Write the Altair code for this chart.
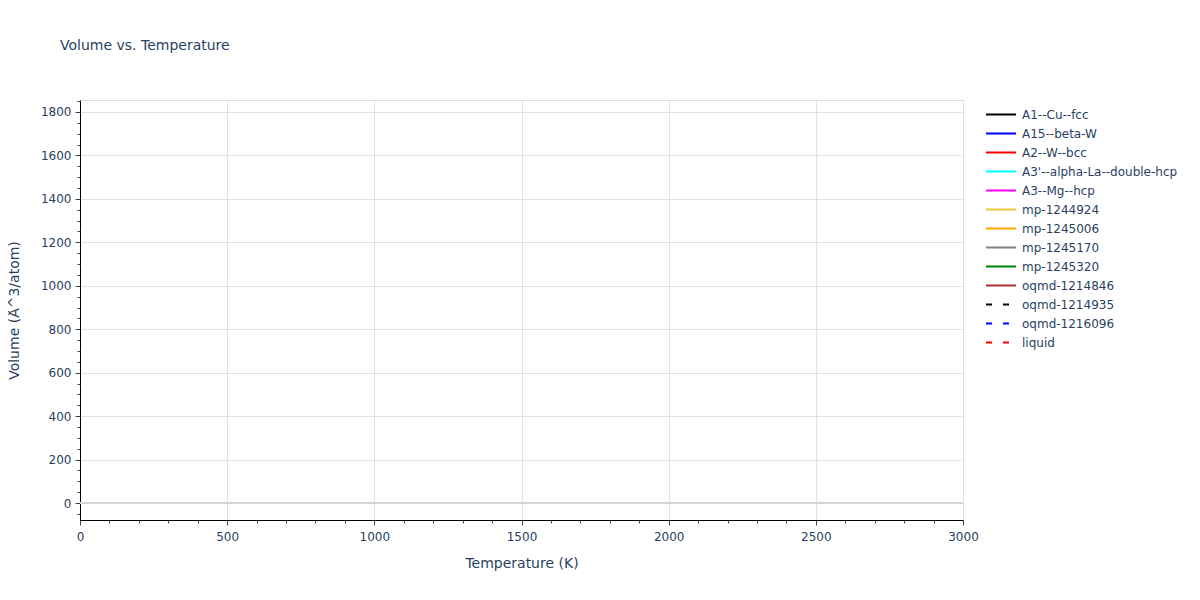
import altair as alt
import pandas as pd

series = ["A1--Cu--fcc", "A15--beta-W", "A2--W--bcc", "A3'--alpha-La--double-hcp",
          "A3--Mg--hcp", "mp-1244924", "mp-1245006", "mp-1245170", "mp-1245320",
          "oqmd-1214846", "oqmd-1214935", "oqmd-1216096", "liquid"]
colors = ["black", "blue", "red", "cyan", "magenta", "#f0c840", "orange", "gray",
          "green", "#a83232", "black", "blue", "red"]
dashes = [[1, 0]] * 10 + [[6, 11]] * 3

# No data points are visible in the reference: every series is empty
temperature = [None] * len(series)
volume = [None] * len(series)

x_ticks = [0, 500, 1000, 1500, 2000, 2500, 3000]
y_ticks = [0, 200, 400, 600, 800, 1000, 1200, 1400, 1600, 1800]
x_minor = list(range(0, 3001, 100))
y_minor = list(range(-50, 1851, 50))

df = pd.DataFrame({"phase": series, "T": temperature, "V": volume})
zero_df = pd.DataFrame({"V": [0]})

FONT = "DejaVu Sans"
TXT = "#2a3f5f"
xdom = [0, 3000]
ydom = [-78, 1855]

xscale = alt.Scale(domain=xdom, nice=False, zero=False)
yscale = alt.Scale(domain=ydom, nice=False, zero=False)

leg = dict(title=None, orient="none", legendX=905, legendY=5,
           symbolType="stroke", symbolSize=900, symbolStrokeWidth=2, rowPadding=0,
           clipHeight=19, labelFontSize=12, labelColor=TXT, labelFont=FONT, labelOffset=5)

lines = alt.Chart(df).mark_line(strokeWidth=2).encode(
    x=alt.X("T:Q", scale=xscale, title="Temperature (K)",
            axis=alt.Axis(orient="bottom", values=x_ticks, grid=True, gridColor="#e2e2e2",
                          domainColor="black", tickColor="#444", tickSize=5, format="d",
                          labelFlush=False, labelFontSize=12, labelColor=TXT, titleFontSize=14,
                          titleColor=TXT, titleFontWeight="normal", titlePadding=14,
                          labelPadding=6, labelFont=FONT, titleFont=FONT)),
    y=alt.Y("V:Q", scale=yscale, title="Volume (Å^3/atom)",
            axis=alt.Axis(orient="left", values=y_ticks, grid=True, gridColor="#e2e2e2",
                          domainColor="black", tickColor="#444", tickSize=5, format="d",
                          labelFontSize=12, labelColor=TXT, titleFontSize=14,
                          titleColor=TXT, titleFontWeight="normal", titlePadding=19,
                          labelPadding=4, labelFont=FONT, titleFont=FONT)),
    color=alt.Color("phase:N", scale=alt.Scale(domain=series, range=colors),
                    legend=alt.Legend(**leg)),
    strokeDash=alt.StrokeDash("phase:N", scale=alt.Scale(domain=series, range=dashes),
                              legend=alt.Legend(**leg)),
)

zero = alt.Chart(zero_df).mark_rule(color="#d4d4d4", strokeWidth=2).encode(
    y=alt.Y("V:Q", scale=yscale, axis=None)
)

minor_y = alt.Chart(zero_df).mark_point(opacity=0).encode(
    y=alt.Y("V:Q", scale=yscale,
            axis=alt.Axis(orient="left", values=y_minor, labels=False,
                          grid=False, domain=False, tickColor="#444", tickSize=3, title=None))
)
minor_x = alt.Chart(zero_df).mark_point(opacity=0).encode(
    x=alt.X("V:Q", scale=xscale,
            axis=alt.Axis(orient="bottom", values=x_minor, labels=False,
                          grid=False, domain=False, tickColor="#444", tickSize=3, title=None))
)

chart = alt.layer(zero, lines, minor_y, minor_x).resolve_axis(
    x="independent", y="independent"
).properties(
    width=883, height=420,
    autosize=alt.AutoSizeParams(type="none"),
    padding={"left": 72, "top": 92, "right": 229, "bottom": 72},
    title=alt.TitleParams("Volume vs. Temperature", anchor="start", frame="group", dx=-20,
                          offset=47, fontSize=14, font=FONT, color=TXT, fontWeight="normal"),
).configure_view(stroke=None).configure(background="white")

chart.save("out.html", embed_options={"renderer": "svg", "actions": False})
